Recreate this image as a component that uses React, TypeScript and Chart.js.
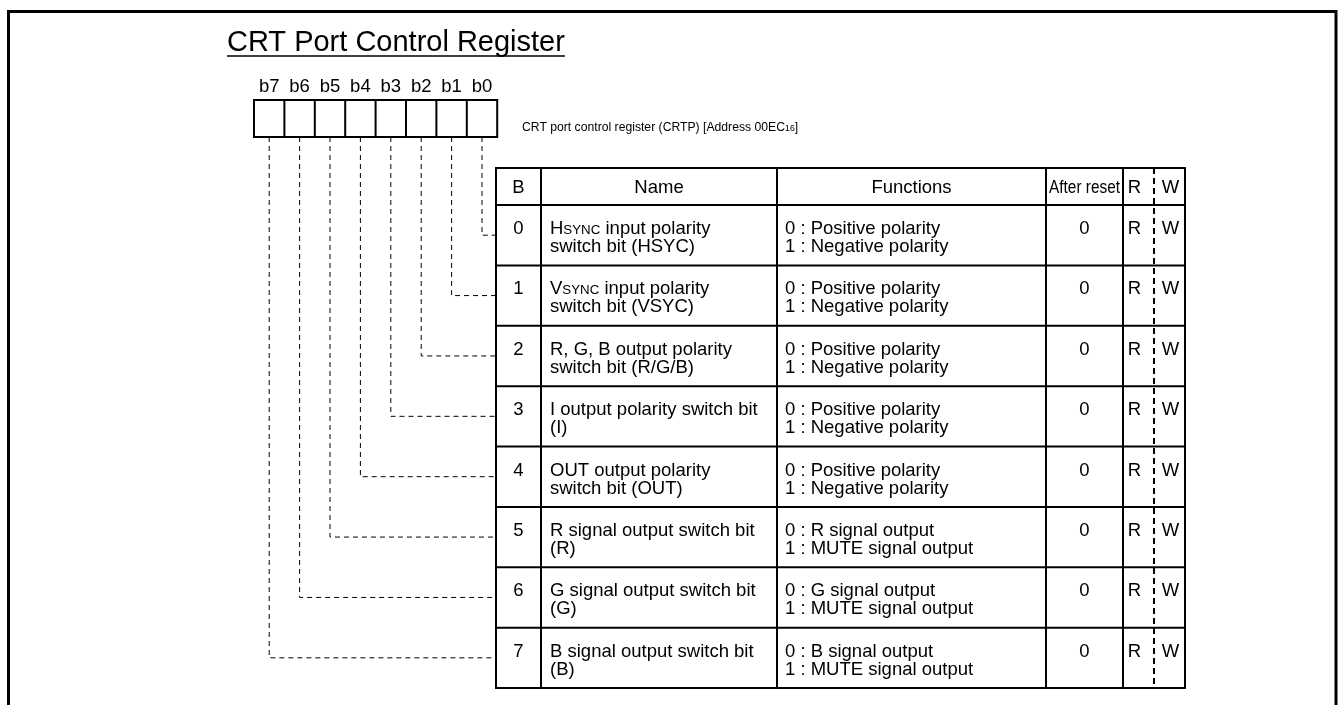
import React, { useEffect, useRef } from "react";
import { Chart, registerables } from "chart.js";

Chart.register(...registerables);

// ---------- data ----------
const titleText = "CRT Port Control Register";
const registerLabel = "CRT port control register (CRTP) [Address 00EC{16}]";
const bitLabels = ["b7", "b6", "b5", "b4", "b3", "b2", "b1", "b0"];
const headerLabels = ["B", "Name", "Functions", "After reset"];
const rwLabels = ["R", "W"];
const bitNumbers = ["0", "1", "2", "3", "4", "5", "6", "7"];
const nameLine1 = [
  "H{SYNC} input polarity",
  "V{SYNC} input polarity",
  "R, G, B output polarity",
  "I output polarity switch bit",
  "OUT output polarity",
  "R signal output switch bit",
  "G signal output switch bit",
  "B signal output switch bit",
];
const nameLine2 = [
  "switch bit (HSYC)",
  "switch bit (VSYC)",
  "switch bit (R/G/B)",
  "(I)",
  "switch bit (OUT)",
  "(R)",
  "(G)",
  "(B)",
];
const functionLine1 = [
  "0 : Positive polarity",
  "0 : Positive polarity",
  "0 : Positive polarity",
  "0 : Positive polarity",
  "0 : Positive polarity",
  "0 : R signal output",
  "0 : G signal output",
  "0 : B signal output",
];
const functionLine2 = [
  "1 : Negative polarity",
  "1 : Negative polarity",
  "1 : Negative polarity",
  "1 : Negative polarity",
  "1 : Negative polarity",
  "1 : MUTE signal output",
  "1 : MUTE signal output",
  "1 : MUTE signal output",
];
const afterReset = ["0", "0", "0", "0", "0", "0", "0", "0"];

// ---------- layout (scale units == pixels) ----------
const W = 1339;
const H = 705;
const FONT = '"Liberation Sans", Arial, Helvetica, sans-serif';
const L = {
  frameLeft: 8.5,
  frameTop: 11.5,
  frameRight: 1336,
  titleX: 227,
  titleY: 51,
  titleSize: 29,
  regLeft: 254,
  regTop: 100,
  regBottom: 137,
  cellW: 30.4,
  bitLabelY: 92,
  labelX: 522,
  labelY: 131,
  labelSize: 12.2,
  tableTop: 168,
  headerBottom: 205,
  tableBottom: 688,
  cols: [496, 541, 777, 1046, 1123, 1185],
  rwSplit: 1154,
  textSize: 18.5,
};
const rowH = (L.tableBottom - L.headerBottom) / 8;
const rowTop = (i: number) => L.headerBottom + i * rowH;
const rowMid = (i: number) => rowTop(i) + rowH / 2;
const cellCenter = (bit: number) => L.regLeft + (7 - bit + 0.5) * L.cellW;

function drawRich(ctx: CanvasRenderingContext2D, s: string, x: number, y: number, size: number) {
  const parts = s.split(/(\{[^}]*\})/).filter(Boolean);
  let cx = x;
  for (const p of parts) {
    const small = p.startsWith("{");
    const t = small ? p.slice(1, -1) : p;
    ctx.font = `${small ? size * 0.72 : size}px ${FONT}`;
    ctx.fillText(t, cx, y);
    cx += ctx.measureText(t).width;
  }
  return cx;
}

const tablePlugin = {
  id: "registerTable",
  afterDatasetsDraw(chart: any) {
    const ctx: CanvasRenderingContext2D = chart.ctx;
    const X = (v: number) => chart.scales.x.getPixelForValue(v);
    const Y = (v: number) => chart.scales.y.getPixelForValue(v);
    ctx.save();
    ctx.fillStyle = "#000";
    ctx.strokeStyle = "#000";
    ctx.setLineDash([]);

    // outer frame (open at bottom)
    ctx.lineWidth = 3;
    ctx.beginPath();
    ctx.moveTo(X(L.frameLeft), Y(H));
    ctx.lineTo(X(L.frameLeft), Y(L.frameTop));
    ctx.lineTo(X(L.frameRight), Y(L.frameTop));
    ctx.lineTo(X(L.frameRight), Y(H));
    ctx.stroke();

    // title + underline
    ctx.textBaseline = "alphabetic";
    ctx.textAlign = "left";
    ctx.font = `${L.titleSize}px ${FONT}`;
    ctx.fillText(titleText, X(L.titleX), Y(L.titleY));
    const tw = ctx.measureText(titleText).width;
    ctx.lineWidth = 1.5;
    ctx.beginPath();
    ctx.moveTo(X(L.titleX), Y(L.titleY + 5));
    ctx.lineTo(X(L.titleX) + tw, Y(L.titleY + 5));
    ctx.stroke();

    // bit labels and register cells
    ctx.font = `${L.textSize}px ${FONT}`;
    ctx.textAlign = "center";
    bitLabels.forEach((b, i) => {
      ctx.fillText(b, X(L.regLeft + (i + 0.5) * L.cellW), Y(L.bitLabelY));
    });
    ctx.lineWidth = 2;
    ctx.strokeRect(X(L.regLeft), Y(L.regTop), X(L.regLeft + 8 * L.cellW) - X(L.regLeft), Y(L.regBottom) - Y(L.regTop));
    ctx.beginPath();
    for (let i = 1; i < 8; i++) {
      ctx.moveTo(X(L.regLeft + i * L.cellW), Y(L.regTop));
      ctx.lineTo(X(L.regLeft + i * L.cellW), Y(L.regBottom));
    }
    ctx.stroke();

    // register label
    ctx.textAlign = "left";
    drawRich(ctx, registerLabel, X(L.labelX), Y(L.labelY), L.labelSize);

    // table grid
    const c = L.cols;
    ctx.lineWidth = 2;
    ctx.strokeRect(X(c[0]), Y(L.tableTop), X(c[5]) - X(c[0]), Y(L.tableBottom) - Y(L.tableTop));
    ctx.beginPath();
    for (let i = 1; i < 5; i++) {
      ctx.moveTo(X(c[i]), Y(L.tableTop));
      ctx.lineTo(X(c[i]), Y(L.tableBottom));
    }
    ctx.moveTo(X(c[0]), Y(L.headerBottom));
    ctx.lineTo(X(c[5]), Y(L.headerBottom));
    for (let r = 1; r < 8; r++) {
      ctx.moveTo(X(c[0]), Y(rowTop(r)));
      ctx.lineTo(X(c[5]), Y(rowTop(r)));
    }
    ctx.stroke();

    // header texts
    const hy = (L.tableTop + L.headerBottom) / 2 + 6.5;
    ctx.font = `${L.textSize}px ${FONT}`;
    ctx.textAlign = "center";
    for (let i = 0; i < 3; i++) {
      ctx.fillText(headerLabels[i], X((c[i] + c[i + 1]) / 2), Y(hy));
    }
    ctx.font = `${L.textSize - 1}px ${FONT}`;
    ctx.fillText(headerLabels[3], X((c[3] + c[4]) / 2), Y(hy), X(c[4]) - X(c[3]) - 6);
    ctx.font = `${L.textSize}px ${FONT}`;
    const rx = (c[4] + L.rwSplit) / 2 - 4;
    const wx = (L.rwSplit + c[5]) / 2 + 1;
    ctx.fillText(rwLabels[0], X(rx), Y(hy));
    ctx.fillText(rwLabels[1], X(wx), Y(hy));

    // rows
    for (let r = 0; r < 8; r++) {
      const b1 = rowTop(r) + 29;
      const b2 = rowTop(r) + 47;
      ctx.textAlign = "center";
      ctx.font = `${L.textSize}px ${FONT}`;
      ctx.fillText(bitNumbers[r], X((c[0] + c[1]) / 2), Y(b1));
      ctx.fillText(afterReset[r], X((c[3] + c[4]) / 2), Y(b1));
      ctx.fillText(rwLabels[0], X(rx), Y(b1));
      ctx.fillText(rwLabels[1], X(wx), Y(b1));
      ctx.textAlign = "left";
      drawRich(ctx, nameLine1[r], X(c[1] + 9), Y(b1), L.textSize);
      drawRich(ctx, nameLine2[r], X(c[1] + 9), Y(b2), L.textSize);
      drawRich(ctx, functionLine1[r], X(c[2] + 8), Y(b1), L.textSize);
      drawRich(ctx, functionLine2[r], X(c[2] + 8), Y(b2), L.textSize);
    }
    ctx.restore();
  },
};

export default function App() {
  const ref = useRef<HTMLCanvasElement | null>(null);
  useEffect(() => {
    if (!ref.current) return;
    const connectors = bitNumbers.map((_, bit) => ({
      type: "line" as const,
      data: [
        { x: cellCenter(bit), y: L.regBottom },
        { x: cellCenter(bit), y: rowMid(bit) },
        { x: L.cols[0], y: rowMid(bit) },
      ],
      borderColor: "#000",
      borderWidth: 1,
      borderDash: [5, 4],
      pointRadius: 0,
      showLine: true,
      fill: false,
      tension: 0,
    }));
    const rwDivider = {
      type: "line" as const,
      data: [
        { x: L.rwSplit, y: L.tableTop },
        { x: L.rwSplit, y: L.tableBottom },
      ],
      borderColor: "#000",
      borderWidth: 2,
      borderDash: [6, 4],
      pointRadius: 0,
      showLine: true,
      fill: false,
    };
    const chart = new Chart(ref.current, {
      type: "scatter",
      data: { datasets: [...connectors, rwDivider] as any },
      options: {
        animation: false,
        responsive: false,
        maintainAspectRatio: false,
        devicePixelRatio: 1,
        events: [],
        layout: { padding: 0 },
        plugins: { legend: { display: false }, tooltip: { enabled: false } },
        scales: {
          x: { type: "linear", min: 0, max: W, display: false },
          y: { type: "linear", min: 0, max: H, reverse: true, display: false },
        },
        elements: { line: { borderCapStyle: "butt" } },
      } as any,
      plugins: [tablePlugin],
    });
    return () => chart.destroy();
  }, []);
  return (
    <div style={{ position: "fixed", left: 0, top: 0, width: W, height: H, background: "#fff" }}>
      <canvas ref={ref} width={W} height={H} style={{ display: "block", width: W, height: H }} />
    </div>
  );
}
